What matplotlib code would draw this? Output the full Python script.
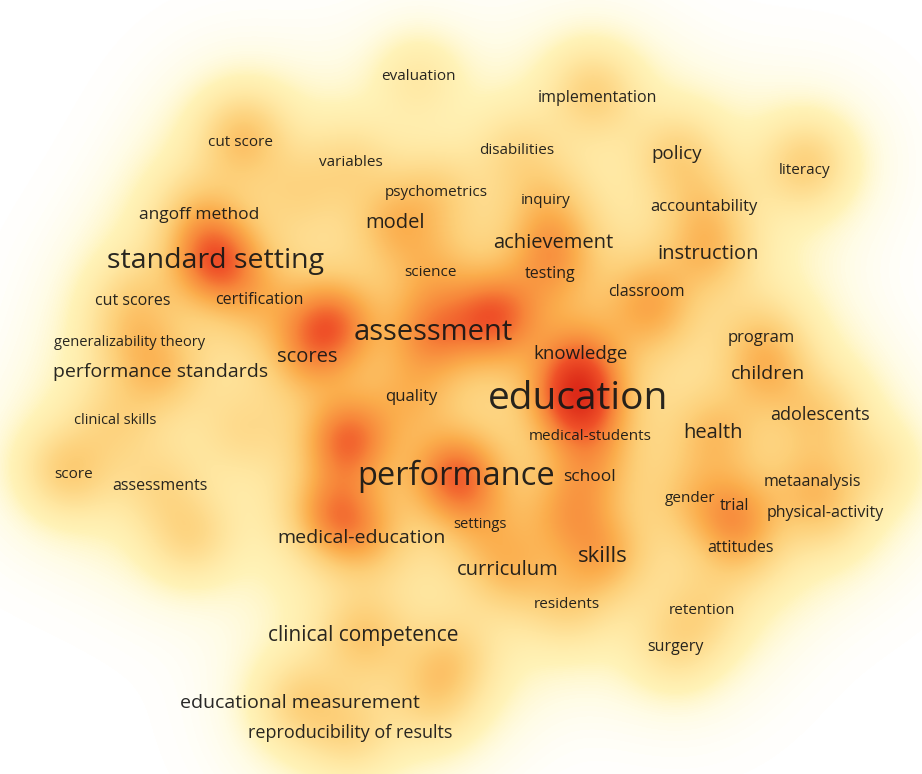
import numpy as np
import matplotlib
matplotlib.use("Agg")
import matplotlib.pyplot as plt
from matplotlib.colors import LinearSegmentedColormap

## Keyword map: label, map coordinates (x, y), occurrence weight, label size
terms = ["evaluation", "implementation", "cut score", "variables", "disabilities",
         "policy", "literacy", "psychometrics", "inquiry", "accountability",
         "angoff method", "model", "achievement", "instruction", "standard setting",
         "science", "testing", "classroom", "cut scores", "certification",
         "assessment", "program", "generalizability theory", "scores", "knowledge",
         "performance standards", "children", "quality", "education", "adolescents",
         "clinical skills", "health", "medical-students", "score", "performance",
         "school", "assessments", "metaanalysis", "gender", "trial",
         "physical-activity", "settings", "medical-education", "attitudes", "skills",
         "curriculum", "residents", "retention", "clinical competence", "surgery",
         "educational measurement", "reproducibility of results"]
term_x = [418, 597, 240, 351, 517, 677, 805, 436, 546, 704,
          199, 395, 553, 708, 216, 430, 550, 646, 133, 259,
          433, 761, 130, 307, 581, 161, 768, 411, 578, 820,
          115, 713, 590, 74, 456, 589, 160, 812, 690, 734,
          825, 480, 362, 740, 603, 508, 567, 702, 363, 675,
          300, 350]
term_y = [76, 98, 143, 163, 150, 154, 170, 193, 200, 207,
          215, 223, 243, 254, 261, 272, 274, 292, 301, 300,
          333, 338, 343, 357, 354, 372, 374, 397, 399, 415,
          421, 433, 437, 474, 476, 477, 486, 482, 498, 506,
          513, 524, 538, 548, 556, 570, 604, 611, 636, 647,
          703, 733]
term_w = [0.8, 0.9, 1.0, 0.9, 0.9, 1.3, 0.9, 1.0, 1.0, 1.1,
          1.2, 1.5, 1.5, 1.5, 3.4, 1.0, 1.0, 1.1, 1.0, 1.0,
          2.2, 1.1, 0.9, 1.4, 1.3, 1.4, 1.4, 1.1, 3.2, 1.2,
          0.9, 1.4, 1.0, 0.9, 3.2, 1.1, 0.9, 1.0, 0.9, 0.9,
          1.0, 1.0, 1.4, 1.0, 1.7, 1.4, 1.0, 0.9, 1.5, 1.0,
          1.4, 1.1]
term_fs = [11, 11.5, 11, 11, 11, 13.5, 11, 11, 11, 12,
           12.5, 14.5, 14.5, 14.5, 20.5, 11, 11.5, 11.5, 11.5, 11.5,
           21, 12, 10.5, 14.5, 13.5, 14, 14, 12, 28, 13,
           10.5, 14.5, 11, 11, 23.5, 12.5, 11.5, 11.5, 11, 11.5,
           11.5, 10.5, 14, 11.5, 16, 14.5, 11, 11, 15, 11.5,
           14, 13]

## Items whose labels are hidden (overlap) but still add to the density
hidden_x = [330, 494, 347, 333, 190, 654, 568, 450, 433, 878, 245, 300, 574, 60, 734, 808, 588, 240]
hidden_y = [323, 317, 440, 513, 537, 317, 517, 660, 700, 467, 128, 190, 377, 467, 520, 157, 83, 430]
hidden_w = [2.9, 3.0, 3.0, 2.4, 1.3, 1.1, 1.4, 1.3, 1.1, 0.7, 0.9, 0.8, 0.8, 0.8, 1.0, 0.8, 0.7, 0.8]

W, H = 922, 774

xs = np.array(term_x + hidden_x, dtype=float)
ys = np.array(term_y + hidden_y, dtype=float)
ws = np.array(term_w + hidden_w, dtype=float)

## kernel density: narrow kernel for the spots plus a wide faint one for the haze
X, Y = np.meshgrid(np.arange(W) + 0.5, np.arange(H) + 0.5)
D = np.zeros((H, W))
for x0, y0, w0 in zip(xs, ys, ws):
    r2 = (X - x0)**2 + (Y - y0)**2
    D += w0 * (np.exp(-r2 / (2 * 30.0**2)) + 0.3 * np.exp(-r2 / (2 * 62.0**2)))
D = D / D.max()

cmap = LinearSegmentedColormap.from_list(
    "vos", [(0.0, "#ffffff"), (0.04, "#fffce6"), (0.1, "#fff3b8"),
            (0.2, "#ffe6a0"), (0.35, "#fdcf78"), (0.5, "#fbad4c"),
            (0.65, "#f7863a"), (0.8, "#ef5028"), (1.0, "#dc2a18")])

fig = plt.figure(figsize=(W / 100, H / 100), dpi=100)
ax = fig.add_axes([0, 0, 1, 1])
ax.imshow(D, cmap=cmap, vmin=0, vmax=1, extent=(0, W, H, 0), interpolation="bilinear")

for t, x, y, fs in zip(terms, term_x, term_y, term_fs):
    ax.text(x, y, t, fontsize=fs, family=["Open Sans", "DejaVu Sans"],
            color="#151515", alpha=0.92, ha="center", va="center")

ax.set_xlim(0, W); ax.set_ylim(H, 0)
ax.axis("off")
fig.savefig("out.png", dpi=100)
